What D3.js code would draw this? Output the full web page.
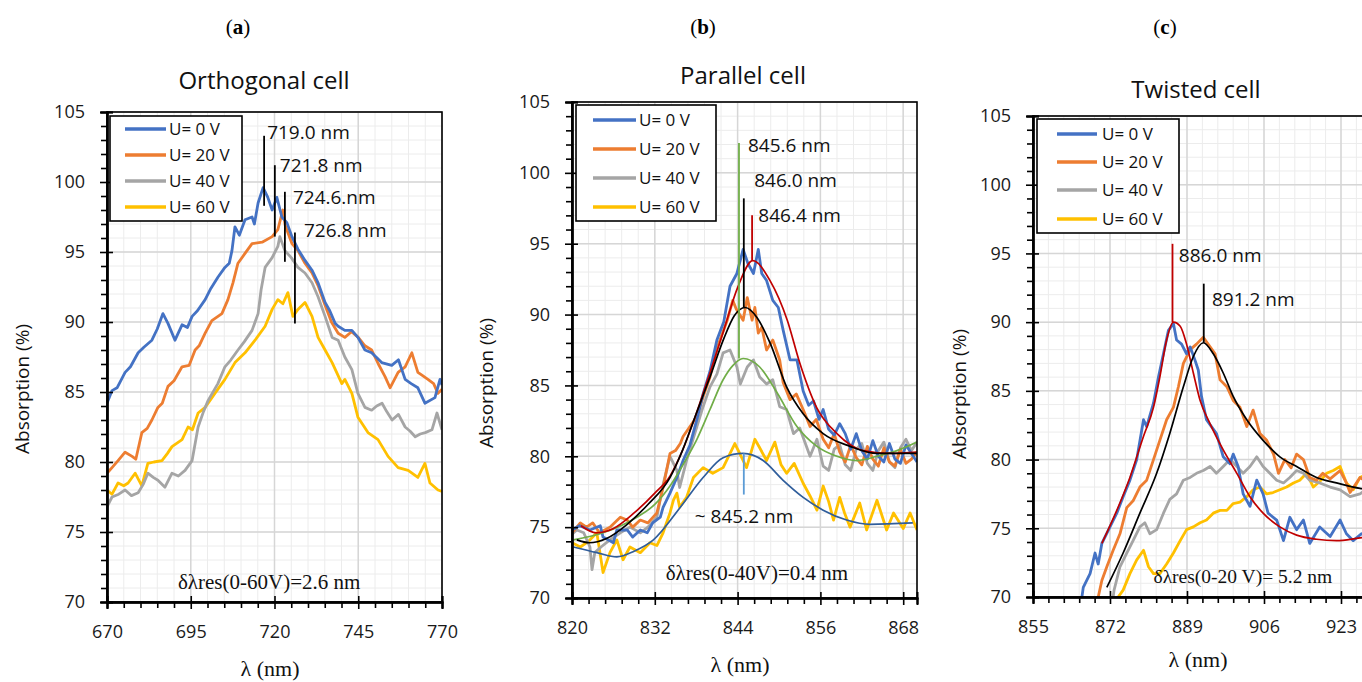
<!DOCTYPE html>
<html>
<head>
<meta charset="utf-8">
<script src="https://cdn.jsdelivr.net/npm/d3@7"></script>
<style>
body { margin: 0; background: #fff; }
svg { display: block; font-family: "Open Sans", sans-serif; }
</style>
</head>
<body>
<svg id="fig" width="1362" height="682"></svg>
<script>
// ---- data ----
var yTicks = [70, 75, 80, 85, 90, 95, 100, 105];
var seriesNames = ["U= 0 V", "U= 20 V", "U= 40 V", "U= 60 V"];

// (a) orthogonal cell
var orthXTicks = [670, 695, 720, 745, 770];
var orthU0 = [[670,84.2],[671.5,85.1],[673,85.3],[675.4,86.4],[677,86.8],[679.3,87.8],[681,88.2],[683.4,88.7],[685,89.5],[686.7,90.6],[688.2,89.9],[690.3,88.7],[692.4,89.8],[694,89.6],[695.4,90.4],[697,90.8],[699.3,91.6],[701,92.4],[703.1,93.2],[705.2,93.9],[706.5,94.2],[707.3,95.1],[708.2,96.8],[709.5,96.2],[711.2,97.3],[713.3,97.5],[714,97.0],[715.1,98.5],[716.6,99.6],[718,98.9],[719.3,98.0],[720.7,98.9],[722.2,97.5],[723.7,97.1],[725.2,96.1],[727,95.2],[729.1,94.4],[731.2,93.7],[733,92.8],[735.1,91.4],[736.5,90.8],[738.1,89.9],[739,89.7],[741,89.4],[743.1,89.4],[744.9,88.9],[747,88.0],[749,87.8],[752,87.1],[755,86.9],[757,87.3],[759,85.9],[760.8,85.6],[762.8,85.3],[764.9,84.2],[767.9,84.6],[769.4,85.9],[770,85.5]];
var orthU20 = [[670,79.2],[671.5,79.6],[673.3,80.1],[675.4,80.7],[677.5,80.4],[678.6,80.2],[680.4,82.1],[682,82.4],[683.4,83.0],[685.2,83.9],[686.5,84.2],[688.2,85.4],[690,85.8],[692.4,86.8],[694.5,86.9],[696.3,88.0],[697.5,88.3],[699.3,89.2],[701.3,90.1],[704.3,90.6],[706.1,91.6],[707.6,92.8],[709.1,94.2],[711.2,94.9],[713.3,95.6],[716.3,95.7],[719.3,96.1],[721,96.6],[722.5,98.0],[723.2,96.9],[725.2,95.6],[727,95.1],[729.1,94.2],[731.2,93.5],[733,92.6],[735.1,91.2],[737,90.0],[739,89.2],[741,88.9],[743,89.3],[745,88.9],[747,88.3],[749,88.0],[751,87.0],[753,86.1],[754.5,85.3],[756.9,86.4],[759,86.8],[761,87.8],[762.8,86.4],[764,86.2],[765.8,85.9],[767.5,85.6],[768.8,84.9],[770,85.2]];
var orthU40 = [[670,76.8],[671.5,77.5],[673.5,77.7],[675.4,78.0],[677.3,77.6],[679.3,77.8],[680.8,78.4],[682.2,79.2],[683.8,78.9],[685.2,78.7],[687.3,78.2],[689.4,79.2],[691.3,79.0],[693.3,79.4],[695.4,80.1],[697.2,82.5],[698.8,83.6],[700.2,84.4],[703.1,85.6],[705.2,86.8],[707,87.3],[709.1,88.0],[711,88.6],[713.3,89.4],[715.1,90.6],[716,92.3],[717.2,93.9],[719.3,94.6],[721,95.4],[721.6,96.1],[723.1,95.1],[725,94.6],[727,93.9],[729.1,93.5],[731.2,92.8],[733,91.8],[735.1,90.4],[737.2,88.9],[739,88.7],[741,87.5],[743.1,86.6],[744.9,84.9],[747,83.9],[749,83.7],[750.5,84.0],[752.1,84.2],[753.5,83.6],[755.1,83.0],[757,83.4],[759,82.5],[760.5,82.2],[762,81.8],[763.5,82.0],[765,82.1],[767,82.3],[768.5,83.5],[770,82.3]];
var orthU60 = [[670,78.0],[671.5,77.7],[673.3,78.5],[675,78.3],[676.3,78.5],[678.4,79.2],[680.4,78.3],[682.2,79.9],[684,80.0],[686.4,80.1],[688,80.6],[689.4,81.1],[692.4,81.6],[694.2,82.5],[695.5,82.3],[697.2,83.5],[699.3,83.9],[702.2,84.9],[705.2,85.9],[708.2,87.1],[711.2,87.8],[714.2,88.7],[717.2,89.7],[719.3,90.9],[721,91.6],[722.5,91.3],[724,92.1],[725.5,90.4],[727,90.9],[729.1,91.4],[731.2,90.4],[733,88.9],[735.1,88.0],[737.2,87.1],[740.1,85.6],[741,85.9],[743.1,84.9],[744.9,83.2],[747.9,82.1],[750.9,81.6],[753.9,80.4],[756.9,79.6],[759.9,79.4],[762.8,78.9],[764.9,79.9],[766.4,78.5],[768.8,78.0],[770,77.9]];
var orthPeakLines = [[716.9,103.3,98.3],[720.1,101.2,96.1],[723.1,99.3,94.3],[726.1,96.4,89.9]];
var orthPeakLabels = [["719.0 nm",717.8,103.1],["721.8 nm",721.6,100.7],["724.6.nm",725.5,98.4],["726.8 nm",728.8,96.1]];
var orthShift = ["δλres(0-60V)=2.6 nm", 718.4, 70.9];

// (b) parallel cell
var parXTicks = [820, 832, 844, 856, 868];
var parU0 = [[820,74.8],[821.1,75.1],[822.6,74.8],[824.1,75.1],[824.5,74.3],[826,73.9],[826.5,74.8],[828,74.8],[828.8,74.3],[829.9,74.8],[830.9,74.6],[831.7,75.3],[832.8,75.7],[833.2,76.4],[834.2,77.4],[835.2,78.5],[836.1,79.7],[837.1,80.8],[838.1,82.6],[839,84.4],[840,86.0],[841,88.2],[842,89.5],[842.9,92.0],[843.9,92.9],[844.8,94.6],[845.5,93.6],[846.3,92.9],[847,94.6],[847.5,92.9],[848.2,92.4],[849.1,91.0],[849.9,90.5],[850.6,88.9],[851.6,86.8],[852.6,86.8],[853.5,84.6],[854.3,83.6],[855,83.9],[855.8,82.6],[856.4,83.3],[857.2,81.9],[858,81.5],[858.8,82.3],[859.6,81.6],[860.4,80.5],[861.2,81.6],[862,80.4],[862.8,79.8],[863.6,81.1],[864.4,80.0],[865.2,79.6],[866,80.9],[866.8,79.8],[867.6,79.5],[868.4,80.8],[869.2,80.2],[870,79.6]];
var parU20 = [[820,74.6],[821.2,75.3],[822.1,75.0],[823,75.3],[824,74.6],[825.5,75.0],[827,75.7],[828,75.5],[828.8,75.0],[829.9,75.5],[831,75.3],[832.3,76.0],[833.2,77.8],[834.2,80.2],[835,80.4],[835.7,80.9],[836.1,81.4],[837.1,82.1],[838.1,82.8],[839,84.2],[840,85.6],[841,87.6],[842.5,89.6],[843.3,91.0],[843.8,90.4],[844.8,89.6],[845.4,91.2],[846.1,89.6],[846.5,90.5],[847,88.7],[847.5,89.1],[848.2,87.5],[849.1,88.2],[850.1,86.8],[850.6,85.2],[851.6,84.0],[852.5,84.4],[853.5,83.3],[854.5,82.1],[855.4,82.6],[856.4,81.2],[857.2,80.6],[858,81.6],[858.8,80.3],[859.6,79.6],[860.4,80.8],[861.2,79.9],[862,79.4],[862.8,80.7],[863.6,79.8],[864.4,79.3],[865.2,80.6],[866,79.6],[866.8,79.3],[867.6,80.5],[868.4,79.5],[869.2,79.8],[870,80.3]];
var parU40 = [[820,74.5],[820.7,74.8],[821.7,74.6],[822.6,73.6],[822.9,72.0],[823.3,73.2],[824.2,73.6],[825.5,74.1],[827,74.6],[828.4,75.0],[829.9,74.6],[831,75.0],[832.3,75.7],[833.2,78.0],[834.2,80.0],[835.2,79.0],[835.6,77.8],[836.6,79.7],[838.1,82.1],[839,83.5],[840,84.9],[841,85.8],[841.9,87.3],[842.9,87.5],[843.9,86.3],[844.4,85.1],[845.4,86.3],[846.3,86.8],[847.2,85.6],[848.2,85.1],[849.1,85.4],[850.1,83.5],[851.1,83.3],[852.1,81.6],[853,82.0],[854.5,80.0],[855.5,81.2],[856.4,79.3],[857.2,79.0],[858,80.5],[858.8,80.8],[859.6,79.4],[860.4,79.0],[861.2,80.5],[862,80.9],[862.8,79.5],[863.6,79.0],[864.4,80.4],[865.2,81.0],[866,79.6],[866.8,79.2],[867.6,80.6],[868.4,81.2],[869.2,80.4],[870,81.0]];
var parU60 = [[820,73.9],[821.2,73.6],[822.4,74.0],[823.6,74.6],[824.5,71.8],[825.5,73.2],[826.5,74.1],[827.4,72.7],[828.4,73.6],[829.9,73.2],[831.3,73.9],[832.3,73.7],[833.2,74.6],[834.2,76.0],[834.7,76.9],[835.2,77.4],[835.6,76.4],[836.6,77.1],[837.6,78.5],[839,79.2],[840.4,78.8],[841.9,79.2],[843.6,80.9],[844.3,80.2],[845.3,79.2],[846.5,81.2],[847.2,80.6],[848.2,79.7],[849.4,81.0],[850.3,79.4],[851.1,78.8],[852.2,79.5],[853.5,78.1],[854.5,77.2],[855.5,76.2],[856.4,77.9],[857.2,76.8],[857.9,75.5],[858.8,77.1],[859.5,76.0],[860.3,75.0],[861.7,76.7],[862.7,74.8],[864.2,76.9],[865.6,74.8],[866.6,76.0],[868,74.9],[869,76.0],[870,74.8]];
var parFitU0 = [[821.3,75.1],[823.5,74.6],[826,74.9],[829,76.0],[832,77.4],[834.2,78.6],[836,80.4],[838,83.0],[840,85.9],[842,88.9],[844,91.9],[846.2,93.8],[848.7,92.4],[851.2,89.6],[853,86.6],[855.5,83.4],[858.4,81.6],[862.2,80.4],[866.1,80.2],[870,80.3]];
var parFitU20 = [[820.7,74.1],[822.5,73.9],[825,74.2],[828,75.2],[831,76.6],[834.2,78.5],[836,80.4],[838,83.0],[840,85.6],[842,88.3],[843.5,89.9],[845.1,90.5],[846.8,89.8],[848.7,88.0],[851.1,84.9],[853.5,83.0],[856.4,81.6],[860.3,80.7],[864.2,80.2],[868,80.2],[870,80.2]];
var parFitU40 = [[820.2,74.1],[824.5,74.6],[829.4,75.7],[832,76.6],[834.2,77.9],[836.2,79.5],[838.1,81.2],[840,83.3],[841.9,85.4],[843.3,86.4],[844.8,86.9],[847.2,86.3],[849.7,84.5],[852.6,82.1],[855.5,80.7],[858.4,80.0],[861.3,79.7],[864.2,80.0],[867.1,80.4],[870,81.0]];
var parFitU60 = [[820.2,73.6],[823.6,73.2],[826.5,72.9],[829,73.3],[831.8,74.1],[835.7,76.4],[839,78.5],[841.9,79.9],[844.8,80.2],[847.7,79.7],[850.6,78.3],[853.5,77.1],[856.4,76.2],[859.8,75.5],[863.2,75.2],[869.4,75.3]];
var parPeakLines = [[844.2,102.1,86.9],[844.9,98.2,90.5],[846.1,97.0,93.8],[844.9,80.2,77.3]];
var parPeakLabels = [["845.6 nm",845.5,101.5],["846.0 nm",846.4,99.0],["846.4 nm",847.0,96.5],["~ 845.2 nm",837.8,75.3]];
var parShift = ["δλres(0-40V)=0.4 nm", 846.8, 71.3];

// (c) twisted cell (axis runs on past the right edge of the figure)
var twXTicks = [855, 872, 889, 906, 923];
var twU0 = [[865.8,70.0],[866.1,70.7],[867.6,71.7],[868.7,73.2],[869.4,72.4],[870.2,73.9],[872,75.1],[873.5,76.1],[874.9,77.3],[876.4,78.5],[877.9,80.0],[879.4,82.9],[880.1,82.4],[881.6,84.1],[882.7,86.0],[883.8,87.7],[884.9,89.4],[886,89.9],[886.7,88.7],[887.8,88.4],[888.9,87.7],[889.7,88.2],[890.8,87.2],[891.5,86.5],[892.2,84.6],[893.3,82.9],[894.4,82.4],[895.5,81.9],[897,80.2],[898.5,79.7],[899.2,80.4],[900.3,79.5],[901.4,77.5],[902.9,76.6],[904.4,78.5],[905.8,77.5],[906.9,76.1],[908.8,75.6],[910.3,74.1],[911.7,75.8],[913.2,74.9],[914.7,75.6],[916.1,73.9],[918.3,75.1],[920.6,74.4],[922.8,75.6],[924.2,74.6],[925.7,74.1],[927.5,74.6],[928.5,74.4]];
var twU20 = [[869.4,70.0],[870.2,71.2],[871.3,72.2],[872.7,73.4],[874.2,74.6],[875.7,76.5],[877.1,77.0],[878.6,78.0],[880.1,78.5],[881.6,80.0],[883,81.4],[884.5,82.9],[886,83.8],[887.1,85.3],[888.2,87.0],[889.7,88.0],[891.1,88.4],[892.6,88.9],[894.1,88.2],[895.2,87.7],[896.3,85.8],[897.8,85.3],[899.2,84.3],[900.7,83.8],[902.2,82.4],[903.6,83.6],[905.1,81.9],[906.6,81.4],[908.1,80.4],[909.2,79.0],[910.6,80.0],[912,79.4],[913.2,80.4],[914.7,80.0],[916.1,78.7],[917.6,78.5],[919,79.0],[920.6,78.6],[922.8,79.2],[924.2,78.3],[925,77.6],[927.2,78.7],[928.5,78.4]];
var twU40 = [[872.7,70.0],[872.9,70.5],[874.2,72.2],[875.7,73.2],[877.1,74.1],[878.6,75.1],[879.7,75.4],[880.8,74.6],[882.3,74.9],[883.8,76.1],[885.2,77.1],[886.7,77.5],[888.2,78.5],[889.7,78.7],[891.1,79.0],[892.6,79.2],[894.1,79.5],[895.5,79.0],[897,79.5],[898.5,80.0],[900,79.5],[901.4,79.0],[902.9,79.5],[904.4,80.2],[905.8,79.5],[907.3,79.0],[908.8,78.5],[910.3,78.3],[911.7,78.7],[913.2,79.2],[914.7,79.0],[916.1,78.5],[918.3,78.3],[920.6,78.0],[922.8,77.8],[925,77.3],[927.2,77.5],[928.5,77.8]];
var twU60 = [[873.8,70.0],[874.9,70.5],[876.4,71.7],[877.9,72.7],[879.4,73.4],[880.5,72.2],[881.6,71.7],[883,71.7],[884.5,72.4],[886,73.2],[887.5,74.1],[888.9,74.9],[890.4,75.1],[891.9,75.4],[893.3,75.6],[894.8,76.1],[896.3,76.3],[897.8,76.3],[899.2,76.8],[900.7,76.9],[902.2,77.3],[903.6,77.8],[905.1,78.0],[906.6,77.5],[908,77.6],[909.5,77.8],[911,78.0],[912.5,78.3],[913.9,78.5],[915.4,79.0],[916.9,78.0],[918.3,78.4],[919.8,79.0],[921.3,79.2],[922.8,79.5],[924.2,78.3],[925.7,77.8],[927.2,78.7],[928.5,78.9]];
var twFitU0 = [[870.2,73.9],[873.5,76.3],[876.4,78.7],[879.4,81.7],[881.6,83.8],[883,86.0],[884.5,88.7],[886,90.0],[887.5,89.7],[888.9,88.4],[890.4,86.3],[891.9,84.3],[894.1,82.6],[897,80.7],[900,79.0],[902.9,77.3],[905.8,76.1],[909.5,75.1],[913.2,74.5],[917.6,74.2],[922,74.1],[927.2,74.3],[930,74.4]];
var twFitU20 = [[871.3,70.7],[874.9,73.2],[878.6,76.1],[882.3,79.0],[885.2,81.9],[888.2,85.3],[890.4,87.5],[892.6,88.5],[894.8,87.7],[897,86.3],[899.2,84.6],[902.2,82.9],[905.8,81.4],[909.5,80.2],[913.2,79.5],[917.6,78.7],[922,78.3],[927.2,77.9],[930,77.8]];
var twPeakLines = [[885.8,95.7,90.0],[892.7,92.8,88.5]];
var twPeakLabels = [["886.0 nm",887.2,94.4],["891.2 nm",894.5,91.2]];
var twShift = ["δλres(0-20 V)= 5.2 nm", 881.6, 71.0];

// ---- styles ----
var seriesColors = ["#4472c4", "#ed7d31", "#a5a5a5", "#ffc000"];

var panels = [
  {
    letter: "a", title: "Orthogonal cell",
    xDomain: [670, 770], xTicks: orthXTicks, xRange: [107, 442], yRange: [602, 112],
    titleAt: [264, 89], letterX: 238, yLabelAt: [29, 389], xLabelAt: [270, 676],
    series: [orthU0, orthU20, orthU40, orthU60],
    fits: [], fitColors: [],
    peakLines: orthPeakLines, peakColors: ["#000", "#000", "#000", "#000"],
    peakLabels: orthPeakLabels, shift: orthShift, shiftAnchor: "middle", shiftSize: 21,
    legend: { x: 110, y: 116, w: 132, h: 105, rows: [129, 155, 181, 207], l1: 125, l2: 166, tx: 169 }
  },
  {
    letter: "b", title: "Parallel cell",
    xDomain: [820, 870], xTicks: parXTicks, xRange: [572, 917], yRange: [598, 102],
    titleAt: [743, 84], letterX: 703, yLabelAt: [493, 383], xLabelAt: [740, 672],
    series: [parU0, parU20, parU40, parU60],
    fits: [parFitU40, parFitU60, parFitU0, parFitU20], fitColors: ["#70ad47", "#2f5d9b", "#c00000", "#000"],
    peakLines: parPeakLines, peakColors: ["#70ad47", "#000", "#c00000", "#5b9bd5"],
    peakLabels: parPeakLabels, shift: parShift, shiftAnchor: "middle", shiftSize: 21,
    legend: { x: 576, y: 105, w: 140, h: 116, rows: [120, 149, 178, 207], l1: 593, l2: 636, tx: 639 }
  },
  {
    letter: "c", title: "Twisted cell",
    xDomain: [855, 940], xTicks: twXTicks, xRange: [1033, 1418], yRange: [597, 116],
    titleAt: [1196, 98], letterX: 1165, yLabelAt: [966, 394], xLabelAt: [1198, 667],
    series: [twU0, twU20, twU40, twU60],
    fits: [twFitU0, twFitU20], fitColors: ["#c00000", "#000"],
    peakLines: twPeakLines, peakColors: ["#c00000", "#000"],
    peakLabels: twPeakLabels, shift: twShift, shiftAnchor: "start", shiftSize: 19.5,
    legend: { x: 1037, y: 119, w: 142, h: 114, rows: [134, 162, 190, 219], l1: 1057, l2: 1097, tx: 1102 }
  }
];

var svg = d3.select("#fig");

function drawPanel(p, idx) {
  var g = svg.append("g");
  var x = d3.scaleLinear().domain(p.xDomain).range(p.xRange);
  var y = d3.scaleLinear().domain([70, 105]).range(p.yRange);
  var left = p.xRange[0], right = p.xRange[1], bottom = p.yRange[0], top = p.yRange[1];
  var step = p.xTicks[1] - p.xTicks[0];
  var xMinor = d3.range(0, 200).map(i => p.xDomain[0] + i * step / 5).filter(v => v <= p.xDomain[1] + 1e-6);
  var xMajor = xMinor.filter((v, i) => i % 5 === 0);
  var yMinor = d3.range(70, 105.5, 1);

  // grid
  var grid = g.append("g");
  grid.selectAll(".gxm").data(xMinor).join("line")
    .attr("x1", d => x(d)).attr("x2", d => x(d)).attr("y1", top).attr("y2", bottom)
    .attr("stroke", "#ececec").attr("stroke-width", 1);
  grid.selectAll(".gym").data(yMinor).join("line").attr("class", "gym")
    .attr("x1", left).attr("x2", right).attr("y1", d => y(d)).attr("y2", d => y(d))
    .attr("stroke", "#ececec").attr("stroke-width", 1);
  grid.selectAll(".gx").data(xMajor).join("line").attr("class", "gx")
    .attr("x1", d => x(d)).attr("x2", d => x(d)).attr("y1", top).attr("y2", bottom)
    .attr("stroke", "#d6d6d6").attr("stroke-width", 1.5);
  grid.selectAll(".gy").data(yTicks).join("line").attr("class", "gy")
    .attr("x1", left).attr("x2", right).attr("y1", d => y(d)).attr("y2", d => y(d))
    .attr("stroke", "#d6d6d6").attr("stroke-width", 1.5);

  // clip for the curves
  var clipId = "clip" + idx;
  svg.append("clipPath").attr("id", clipId).append("rect")
    .attr("x", left).attr("y", top).attr("width", right - left).attr("height", bottom - top);
  var plot = g.append("g").attr("clip-path", "url(#" + clipId + ")");

  var rough = d3.line().x(d => x(d[0])).y(d => y(d[1]));
  var smooth = d3.line().x(d => x(d[0])).y(d => y(d[1])).curve(d3.curveMonotoneX);

  // measured spectra, drawn 60 V first so 0 V sits on top
  [3, 2, 1, 0].forEach(function (i) {
    plot.append("path").datum(p.series[i])
      .attr("d", rough).attr("fill", "none")
      .attr("stroke", seriesColors[i]).attr("stroke-width", 2.8)
      .attr("stroke-linejoin", "round");
  });
  // fitted curves
  p.fits.forEach(function (f, i) {
    plot.append("path").datum(f)
      .attr("d", smooth).attr("fill", "none")
      .attr("stroke", p.fitColors[i]).attr("stroke-width", 1.7);
  });
  // resonance markers
  p.peakLines.forEach(function (m, i) {
    g.append("line")
      .attr("x1", x(m[0])).attr("x2", x(m[0])).attr("y1", y(m[1])).attr("y2", y(m[2]))
      .attr("stroke", p.peakColors[i]).attr("stroke-width", 1.8);
  });
  p.peakLabels.forEach(function (t) {
    g.append("text").attr("x", x(t[1])).attr("y", y(t[2]))
      .attr("font-size", 19).attr("fill", "#111").text(t[0]);
  });
  g.append("text").attr("x", x(p.shift[1])).attr("y", y(p.shift[2]))
    .attr("text-anchor", p.shiftAnchor)
    .attr("font-family", "'Liberation Serif', 'DejaVu Serif', serif")
    .attr("font-size", p.shiftSize).attr("fill", "#111").text(p.shift[0]);

  // frame
  g.append("rect").attr("x", left).attr("y", top)
    .attr("width", right - left).attr("height", bottom - top)
    .attr("fill", "none").attr("stroke", "#000").attr("stroke-width", 1.6);

  // axes
  var axes = g.append("g");
  axes.append("g").attr("transform", "translate(" + left + ",0)")
    .call(d3.axisLeft(y).tickValues(yTicks).tickSize(7).tickPadding(15));
  axes.append("g").attr("transform", "translate(" + left + ",0)")
    .call(d3.axisRight(y).tickValues(yTicks).tickSize(6).tickFormat(""));
  axes.append("g").attr("transform", "translate(" + left + ",0)")
    .call(d3.axisLeft(y).tickValues(yMinor.filter(v => v % 5 !== 0)).tickSize(6).tickFormat(""));
  axes.append("g").attr("transform", "translate(0," + bottom + ")")
    .call(d3.axisBottom(x).tickValues(p.xTicks).tickSize(7).tickPadding(16));
  axes.append("g").attr("transform", "translate(0," + bottom + ")")
    .call(d3.axisTop(x).tickValues(xMajor).tickSize(6).tickFormat(""));
  axes.append("g").attr("transform", "translate(0," + bottom + ")")
    .call(d3.axisBottom(x).tickValues(xMinor.filter((v, i) => i % 5 !== 0)).tickSize(6).tickFormat(""));
  axes.selectAll(".domain").attr("stroke", "#000").attr("stroke-width", 2);
  axes.selectAll(".tick line").attr("stroke", "#000").attr("stroke-width", 1.6);
  axes.selectAll("text").attr("font-family", "'Open Sans', sans-serif")
    .attr("font-size", 18).attr("fill", "#1a1a1a");

  // legend
  var L = p.legend;
  var lg = g.append("g");
  lg.append("rect").attr("x", L.x).attr("y", L.y).attr("width", L.w).attr("height", L.h)
    .attr("fill", "#fff").attr("stroke", "#000").attr("stroke-width", 1.6);
  lg.selectAll(".row").data(seriesNames).join("g").attr("class", "row")
    .each(function (name, i) {
      var r = d3.select(this);
      r.append("line").attr("x1", L.l1).attr("x2", L.l2).attr("y1", L.rows[i]).attr("y2", L.rows[i])
        .attr("stroke", seriesColors[i]).attr("stroke-width", 3.5);
      r.append("text").attr("x", L.tx).attr("y", L.rows[i]).attr("dy", "0.36em")
        .attr("font-size", 17).attr("fill", "#111").text(name);
    });

  // titles and axis labels
  svg.append("text").attr("x", p.titleAt[0]).attr("y", p.titleAt[1])
    .attr("text-anchor", "middle").attr("font-size", 24).attr("fill", "#111").text(p.title);
  var lt = svg.append("text").attr("x", p.letterX).attr("y", 34).attr("text-anchor", "middle")
    .attr("font-family", "'Liberation Serif', serif").attr("font-size", 21).attr("fill", "#000");
  lt.append("tspan").text("(");
  lt.append("tspan").attr("font-weight", "bold").text(p.letter);
  lt.append("tspan").text(")");
  svg.append("text")
    .attr("transform", "translate(" + p.yLabelAt[0] + "," + p.yLabelAt[1] + ") rotate(-90)")
    .attr("text-anchor", "middle").attr("font-size", 19).attr("fill", "#111")
    .text("Absorption (%)");
  svg.append("text").attr("x", p.xLabelAt[0]).attr("y", p.xLabelAt[1])
    .attr("text-anchor", "middle").attr("font-family", "'Liberation Serif', serif")
    .attr("font-size", 22).attr("fill", "#111").text("λ (nm)");
}

panels.forEach(drawPanel);
</script>
</body>
</html>
